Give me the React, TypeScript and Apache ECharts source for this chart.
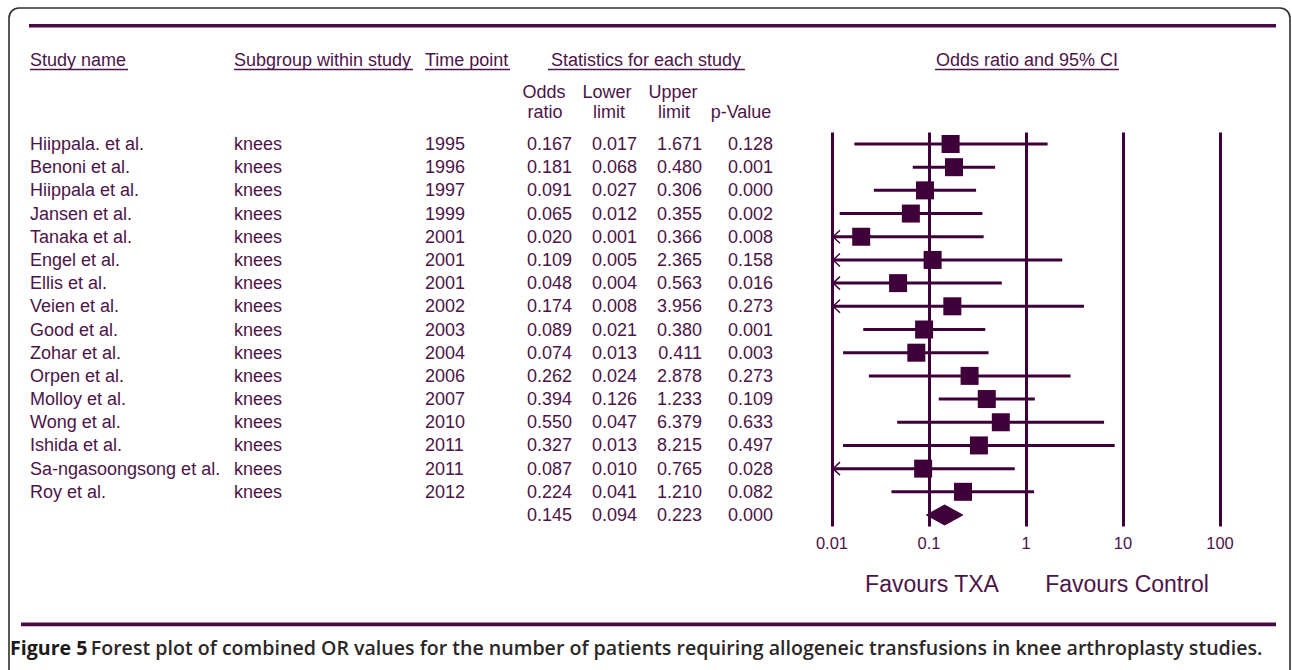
import React, { useEffect, useRef } from "react";
import * as echarts from "echarts";

// ---------- data ----------
const studies = [
  "Hiippala. et al.", "Benoni et al.", "Hiippala et al.", "Jansen et al.",
  "Tanaka et al.", "Engel et al.", "Ellis et al.", "Veien et al.",
  "Good et al.", "Zohar et al.", "Orpen et al.", "Molloy et al.",
  "Wong et al.", "Ishida et al.", "Sa-ngasoongsong et al.", "Roy et al.",
];
const subgroups = [
  "knees", "knees", "knees", "knees", "knees", "knees", "knees", "knees",
  "knees", "knees", "knees", "knees", "knees", "knees", "knees", "knees",
];
const years = [
  "1995", "1996", "1997", "1999", "2001", "2001", "2001", "2002",
  "2003", "2004", "2006", "2007", "2010", "2011", "2011", "2012",
];
const oddsRatio = [0.167, 0.181, 0.091, 0.065, 0.02, 0.109, 0.048, 0.174, 0.089, 0.074, 0.262, 0.394, 0.55, 0.327, 0.087, 0.224];
const lowerLimit = [0.017, 0.068, 0.027, 0.012, 0.001, 0.005, 0.004, 0.008, 0.021, 0.013, 0.024, 0.126, 0.047, 0.013, 0.01, 0.041];
const upperLimit = [1.671, 0.48, 0.306, 0.355, 0.366, 2.365, 0.563, 3.956, 0.38, 0.411, 2.878, 1.233, 6.379, 8.215, 0.765, 1.21];
const pValue = [0.128, 0.001, 0.0, 0.002, 0.008, 0.158, 0.016, 0.273, 0.001, 0.003, 0.273, 0.109, 0.633, 0.497, 0.028, 0.082];

const summaryOR = 0.145;
const summaryLower = 0.094;
const summaryUpper = 0.223;
const summaryP = 0.0;

const xTickLabels = ["0.01", "0.1", "1", "10", "100"];
const xMin = 0.01;
const xMax = 100;

// ---------- style ----------
const FONT = '"Liberation Sans", Arial, Helvetica, sans-serif';
const CAPTION_FONT = '"Open Sans", "Noto Sans", sans-serif';
const TEXT = "#4c1448";
const MARK = "#3f0039";
const RULE = "#4a0a44";
const FS = 18;

const GRID_LEFT = 832;
const GRID_RIGHT = 1292 - 1220;
const GRID_TOP = 132.4;
const GRID_BOTTOM = 670 - 526.6;

const fmt = (v: number) => v.toFixed(3);

export default function App() {
  const ref = useRef<HTMLDivElement>(null);

  useEffect(() => {
    if (!ref.current) return;
    const chart = echarts.init(ref.current, undefined, { renderer: "svg" });

    const nRows = studies.length + 1;
    const rowIds = Array.from({ length: nRows }, (_, i) => String(i));
    const colName = [...studies, ""];
    const colSub = [...subgroups, ""];
    const colYear = [...years, ""];
    const colOR = [...oddsRatio.map(fmt), fmt(summaryOR)];
    const colLo = [...lowerLimit.map(fmt), fmt(summaryLower)];
    const colHi = [...upperLimit.map(fmt), fmt(summaryUpper)];
    const colP = [...pValue.map(fmt), fmt(summaryP)];

    const labelAxis = (data: string[], offset: number, align: string) => ({
      type: "category",
      gridIndex: 0,
      data,
      inverse: true,
      position: "left",
      offset,
      axisLine: { show: false },
      axisTick: { show: false },
      splitLine: { show: false },
      axisLabel: {
        show: true,
        interval: 0,
        margin: 0,
        align,
        color: TEXT,
        fontSize: FS,
        fontFamily: FONT,
      },
    });

    const txt = (text: string, x: number, y: number, align = "left", size = FS, color = TEXT) => ({
      type: "text",
      x,
      y,
      silent: true,
      style: {
        text,
        fill: color,
        fontSize: size,
        fontFamily: FONT,
        align,
        verticalAlign: "middle",
      },
    });
    const uline = (x1: number, x2: number, y: number) => ({
      type: "line",
      silent: true,
      shape: { x1, y1: y, x2, y2: y },
      style: { stroke: TEXT, lineWidth: 1.4 },
    });

    const option: any = {
      animation: false,
      backgroundColor: "#ffffff",
      grid: { left: GRID_LEFT, right: GRID_RIGHT, top: GRID_TOP, bottom: GRID_BOTTOM, containLabel: false },
      xAxis: {
        type: "log",
        logBase: 10,
        min: xMin,
        max: xMax,
        splitNumber: 4,
        axisLine: { show: false },
        axisTick: { show: false },
        splitLine: { show: true, lineStyle: { color: MARK, width: 3 } },
        axisLabel: {
          color: TEXT,
          fontSize: 16.5,
          fontFamily: FONT,
          margin: 8,
          formatter: (_v: number, i: number) => xTickLabels[i] ?? "",
        },
      },
      yAxis: [
        {
          type: "category",
          data: rowIds,
          inverse: true,
          axisLine: { show: false },
          axisTick: { show: false },
          axisLabel: { show: false },
          splitLine: { show: false },
        },
        labelAxis(colName, GRID_LEFT - 30, "left"),
        labelAxis(colSub, GRID_LEFT - 234, "left"),
        labelAxis(colYear, GRID_LEFT - 425, "left"),
        labelAxis(colOR, GRID_LEFT - 572, "right"),
        labelAxis(colLo, GRID_LEFT - 637, "right"),
        labelAxis(colHi, GRID_LEFT - 702, "right"),
        labelAxis(colP, GRID_LEFT - 773, "right"),
      ],
      series: [
        {
          type: "custom",
          xAxisIndex: 0,
          yAxisIndex: 0,
          clip: false,
          encode: { x: [0, 1], y: 2 },
          data: studies.map((_, i) => [lowerLimit[i], upperLimit[i], i]),
          renderItem: (_params: any, api: any) => {
            const lo = api.value(0);
            const hi = api.value(1);
            const row = api.value(2);
            const arrow = lo <= xMin;
            const p0 = api.coord([Math.max(lo, xMin), row]);
            const p1 = api.coord([Math.min(hi, xMax), row]);
            const children: any[] = [
              {
                type: "line",
                shape: { x1: p0[0], y1: p0[1], x2: p1[0], y2: p1[1] },
                style: { stroke: MARK, lineWidth: 3 },
              },
            ];
            if (arrow) {
              children.push({
                type: "polyline",
                shape: {
                  points: [
                    [p0[0] + 8, p0[1] - 6.5],
                    [p0[0] + 1, p0[1]],
                    [p0[0] + 8, p0[1] + 6.5],
                  ],
                },
                style: { stroke: MARK, lineWidth: 1.4, fill: "none" },
              });
            }
            return { type: "group", children };
          },
          z: 3,
        },
        {
          type: "scatter",
          xAxisIndex: 0,
          yAxisIndex: 0,
          symbol: "rect",
          symbolSize: 18,
          itemStyle: { color: MARK, opacity: 1 },
          data: studies.map((_, i) => [oddsRatio[i], i]),
          z: 4,
        },
        {
          type: "custom",
          xAxisIndex: 0,
          yAxisIndex: 0,
          clip: false,
          encode: { x: [0, 1, 2], y: 3 },
          data: [[summaryLower, summaryOR, summaryUpper, studies.length]],
          renderItem: (_params: any, api: any) => {
            const row = api.value(3);
            const a = api.coord([api.value(0), row]);
            const c = api.coord([api.value(1), row]);
            const b = api.coord([api.value(2), row]);
            return {
              type: "polygon",
              shape: {
                points: [
                  [a[0], a[1]],
                  [c[0], c[1] - 10],
                  [b[0], b[1]],
                  [c[0], c[1] + 10],
                ],
              },
              style: { fill: MARK, stroke: MARK, lineWidth: 1 },
            };
          },
          z: 4,
        },
      ],
      graphic: [
        {
          type: "rect",
          silent: true,
          shape: { x: 9, y: 8, width: 1281, height: 680, r: 10 },
          style: { fill: "none", stroke: "#2f2f2f", lineWidth: 1.6 },
          z: 0,
        },
        {
          type: "rect",
          silent: true,
          shape: { x: 29, y: 24, width: 1247, height: 3.6 },
          style: { fill: RULE },
        },
        {
          type: "rect",
          silent: true,
          shape: { x: 21, y: 622.6, width: 1255, height: 3.6 },
          style: { fill: RULE },
        },
        txt("Study name", 30, 60),
        uline(30, 128, 69.5),
        txt("Subgroup within study", 234, 60),
        uline(234, 413, 69.5),
        txt("Time point", 425, 60),
        uline(425, 510, 69.5),
        txt("Statistics for each study", 646, 60, "center"),
        uline(548, 745, 69.5),
        txt("Odds ratio and 95% CI", 1027, 60, "center"),
        uline(935, 1119, 69.5),
        txt("Odds", 544, 92, "center"),
        txt("ratio", 545, 112, "center"),
        txt("Lower", 607, 92, "center"),
        txt("limit", 609, 112, "center"),
        txt("Upper", 673, 92, "center"),
        txt("limit", 674, 112, "center"),
        txt("p-Value", 741, 112, "center"),
        txt("Favours TXA", 932, 584, "center", 23),
        txt("Favours Control", 1127, 584, "center", 23),
        {
          type: "text",
          x: 10,
          y: 647,
          silent: true,
          style: {
            text: "{a|Figure 5} {b|Forest plot of combined OR values for the number of patients requiring allogeneic transfusions in knee arthroplasty studies.}",
            verticalAlign: "middle",
            rich: {
              a: { fontSize: 19.6, fontWeight: "bold", fontFamily: CAPTION_FONT, fill: "#1e1a1b" },
              b: { fontSize: 19.6, fontWeight: 600, fontFamily: CAPTION_FONT, fill: "#2b2728" },
            },
          },
        },
      ],
    };

    chart.setOption(option);
    return () => chart.dispose();
  }, []);

  return (
    <div
      ref={ref}
      style={{ position: "fixed", left: 0, top: 0, width: 1292, height: 670, background: "#fff" }}
    />
  );
}
